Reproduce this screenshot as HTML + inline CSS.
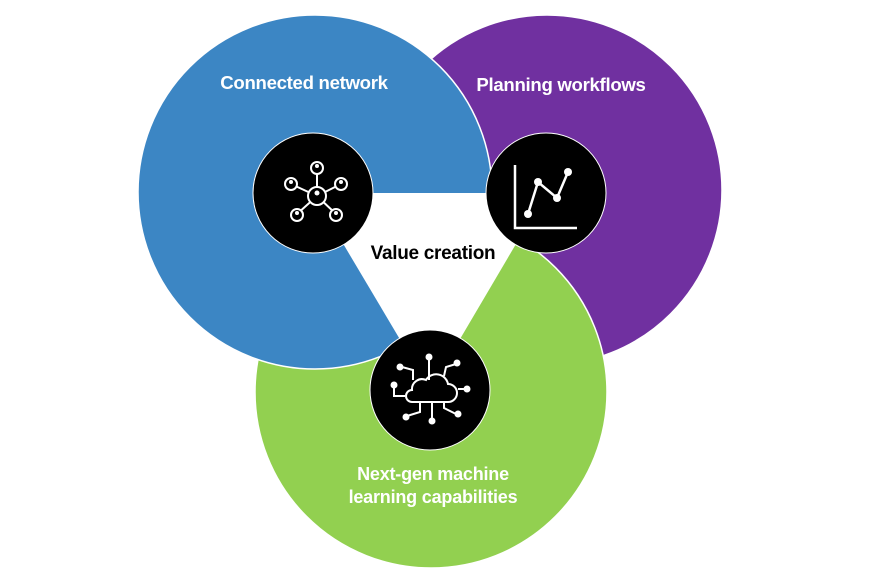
<!DOCTYPE html>
<html><head><style>
html,body{margin:0;padding:0;background:#fff;}
svg{display:block}
text{font-family:"Liberation Sans",Arial,sans-serif;font-weight:bold;}
</style></head><body>
<svg width="870" height="586" viewBox="0 0 870 586">
<circle cx="547" cy="190" r="175" fill="#7030a0" stroke="#fff" stroke-width="1.5"/>
<circle cx="431" cy="392" r="176" fill="#92d050" stroke="#fff" stroke-width="1.5"/>
<circle cx="315" cy="192" r="177" fill="#3c86c4" stroke="#fff" stroke-width="1.5"/>
<polygon points="313,193 546,193 430,390" fill="#fff"/>
<text x="304" y="89" font-size="18.6" fill="#fff" text-anchor="middle" letter-spacing="-0.3">Connected network</text>
<text x="561" y="91" font-size="18.6" fill="#fff" text-anchor="middle" letter-spacing="-0.3">Planning workflows</text>
<text x="433" y="259" font-size="19" fill="#000" text-anchor="middle" letter-spacing="-0.3">Value creation</text>
<text x="433" y="480" font-size="18" fill="#fff" text-anchor="middle" letter-spacing="-0.2">Next-gen machine</text>
<text x="433" y="503" font-size="18" fill="#fff" text-anchor="middle" letter-spacing="-0.2">learning capabilities</text>
<circle cx="313" cy="193" r="60" fill="#000" stroke="#fff" stroke-width="1"/>
<circle cx="546" cy="193" r="60" fill="#000" stroke="#fff" stroke-width="1"/>
<circle cx="430" cy="390" r="60" fill="#000" stroke="#fff" stroke-width="1"/>
<g stroke="#fff" stroke-width="2" fill="none">
<line x1="317" y1="196" x2="317" y2="168"/><line x1="317" y1="196" x2="291" y2="184"/><line x1="317" y1="196" x2="341" y2="184"/><line x1="317" y1="196" x2="297" y2="214"/><line x1="317" y1="196" x2="336" y2="214"/>
</g>
<g stroke="#fff" stroke-width="2" fill="#000">
<circle cx="317" cy="196" r="9"/><circle cx="317" cy="168" r="6"/><circle cx="291" cy="184" r="6"/><circle cx="341" cy="184" r="6"/><circle cx="297" cy="215" r="6"/><circle cx="336" cy="215" r="6"/>
</g>
<g fill="#fff">
<circle cx="317" cy="193" r="2.5"/><circle cx="317" cy="166" r="2"/><circle cx="291" cy="182" r="2"/><circle cx="341" cy="182" r="2"/><circle cx="297" cy="213" r="2"/><circle cx="336" cy="213" r="2"/>
</g>
<g stroke="#fff" stroke-width="2.5" fill="none">
<polyline points="515,165 515,228 577,228"/>
<polyline points="528,214 538,182 557,198 568,172"/>
</g>
<g fill="#fff"><circle cx="528" cy="214" r="4"/><circle cx="538" cy="182" r="4"/><circle cx="557" cy="198" r="4"/><circle cx="568" cy="172" r="4"/></g>
<g stroke="#fff" stroke-width="2" fill="none">
<path d="M412,402 h36 a9,9 0 0 0 0,-18 a12,12 0 0 0 -22,-4 a10,10 0 0 0 -14,10 a6,6 0 0 0 0,12 z"/>
<line x1="429" y1="380" x2="429" y2="360"/>
<polyline points="413,380 413,370 402,367"/>
<polyline points="444,376 446,367 456,364"/>
<polyline points="405,396 394,396 394,386"/>
<line x1="458" y1="389" x2="467" y2="389"/>
<line x1="432" y1="402" x2="432" y2="420"/>
<polyline points="420,402 420,412 407,416"/>
<polyline points="444,402 444,408 456,414"/>
</g>
<g fill="#fff"><circle cx="429" cy="357" r="3.5"/><circle cx="400" cy="367" r="3.5"/><circle cx="457" cy="363" r="3.5"/><circle cx="394" cy="385" r="3.5"/><circle cx="467" cy="389" r="3.5"/><circle cx="432" cy="421" r="3.5"/><circle cx="406" cy="417" r="3.5"/><circle cx="458" cy="414" r="3.5"/></g>
</svg>
</body></html>
